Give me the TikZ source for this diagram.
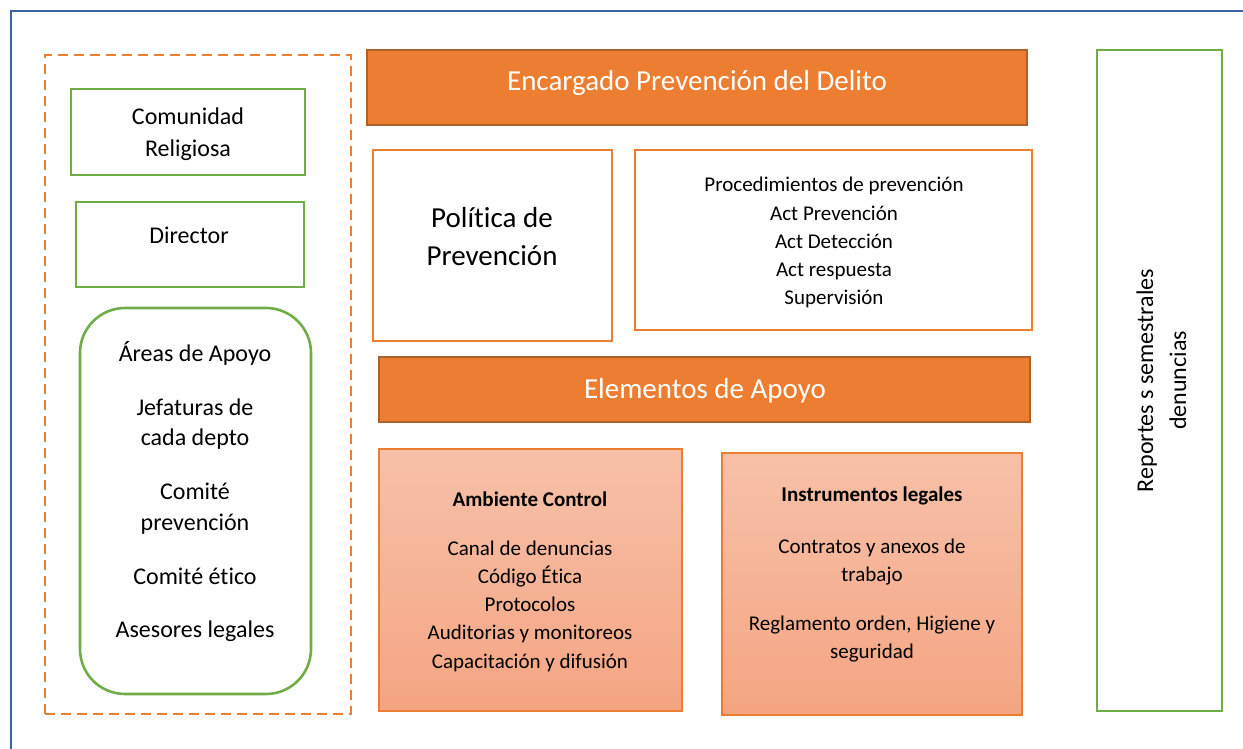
\documentclass[tikz,border=0pt]{standalone}
\usepackage{fontspec}
\setmainfont[Ligatures={NoCommon}]{Carlito}
\definecolor{frameblue}{HTML}{3C64A0}
\definecolor{accorange}{HTML}{ED7D31}
\definecolor{darkorange}{HTML}{B0602A}
\definecolor{accgreen}{HTML}{70AD47}
\definecolor{gradtop}{HTML}{F7C1A8}
\definecolor{gradbot}{HTML}{F4A582}
\begin{document}
\begin{tikzpicture}[x=1pt,y=-1pt,
  boxbase/.style={anchor=north west, inner sep=0pt, outer sep=0pt},
  greenbox/.style={boxbase, draw=accgreen, line width=2.6pt},
  orangeline/.style={boxbase, draw=accorange, line width=2.6pt, fill=white},
  orangefill/.style={boxbase, draw=darkorange, line width=1.8pt, fill=accorange},
  gradbox/.style={boxbase, draw=accorange, line width=1.5pt, top color=gradtop, bottom color=gradbot},
  dashbox/.style={boxbase, draw=accorange, line width=2.6pt, dash pattern=on 10pt off 6pt},
  tl/.style={anchor=base, inner sep=0pt, font=\fontsize{21}{25}\selectfont},
  tlb/.style={tl, font=\fontsize{21}{25}\selectfont\bfseries},
  tm/.style={anchor=base, inner sep=0pt, font=\fontsize{24}{29}\selectfont},
  tw/.style={anchor=base, inner sep=0pt, text=white, font=\fontsize{29}{35}\selectfont},
  tp/.style={anchor=base, inner sep=0pt, font=\fontsize{29}{35}\selectfont}]
\useasboundingbox (0,0) rectangle (1243,749);
\fill[white] (0,0) rectangle (1243,749);
% frame
\draw[frameblue, line width=2.4pt] (11,760) -- (11,11) -- (1250,11);

% left column
\node[dashbox, minimum width=306pt, minimum height=659pt] (left) at (45,55) {};
\node[greenbox, minimum width=234pt, minimum height=86pt] (comunidad) at (71,89) {};
\node[tm] (t1) at (188,125) {Comunidad};
\node[tm] (t2) at (188,157) {Religiosa};
\node[greenbox, minimum width=228pt, minimum height=85pt] (director) at (76,202) {};
\node[tm] (t3) at (189,243) {Director};
\node[greenbox, rounded corners=45pt, minimum width=231pt, minimum height=386pt] (areas) at (80,308) {};
\node[tm] (t4) at (195,361) {Áreas de Apoyo};
\node[tm] (t5) at (195,415) {Jefaturas de};
\node[tm] (t6) at (195,445) {cada depto};
\node[tm] (t7) at (195,499) {Comité};
\node[tm] (t8) at (195,530) {prevención};
\node[tm] (t9) at (195,584) {Comité ético};
\node[tm] (t10) at (195,637) {Asesores legales};

% center
\node[orangefill, minimum width=660pt, minimum height=75pt] (encargado) at (367,50) {};
\node[tw] (t11) at (697,91) {Encargado Prevención del Delito};
\node[orangeline, minimum width=239pt, minimum height=191pt] (politica) at (373,150) {};
\node[tp] (t12) at (492,227) {Política de};
\node[tp] (t13) at (492,265) {Prevención};
\node[orangeline, minimum width=397pt, minimum height=180pt] (proced) at (635,150) {};
\node[tl] (t14) at (834,192) {Procedimientos de prevención};
\node[tl] (t15) at (834,220) {Act Prevención};
\node[tl] (t16) at (834,248) {Act Detección};
\node[tl] (t17) at (834,276) {Act respuesta};
\node[tl] (t18) at (834,304) {Supervisión};
\node[orangefill, minimum width=651pt, minimum height=65pt] (elementos) at (379,357) {};
\node[tw] (t19) at (705,398) {Elementos de Apoyo};
\node[gradbox, minimum width=303pt, minimum height=262pt] (ambiente) at (379,449) {};
\node[tlb] (t20) at (530,506) {Ambiente Control};
\node[tl] (t21) at (530,555) {Canal de denuncias};
\node[tl] (t22) at (530,583) {Código Ética};
\node[tl] (t23) at (530,611) {Protocolos};
\node[tl] (t24) at (530,639) {Auditorias y monitoreos};
\node[tl] (t25) at (530,668) {Capacitación y difusión};
\node[gradbox, minimum width=300pt, minimum height=262pt] (instrumentos) at (722,453) {};
\node[tlb] (t26) at (872,501) {Instrumentos legales};
\node[tl] (t27) at (872,553) {Contratos y anexos de};
\node[tl] (t28) at (872,581) {trabajo};
\node[tl] (t29) at (872,630) {Reglamento orden, Higiene y};
\node[tl] (t30) at (872,658) {seguridad};

% right
\node[greenbox, minimum width=125pt, minimum height=661pt] (reportes) at (1097,50) {};
\node[tm, rotate=90] (t31) at (1153,380.5) {Reportes s semestrales};
\node[tm, rotate=90] (t32) at (1186,380.5) {denuncias};
\end{tikzpicture}
\end{document}
